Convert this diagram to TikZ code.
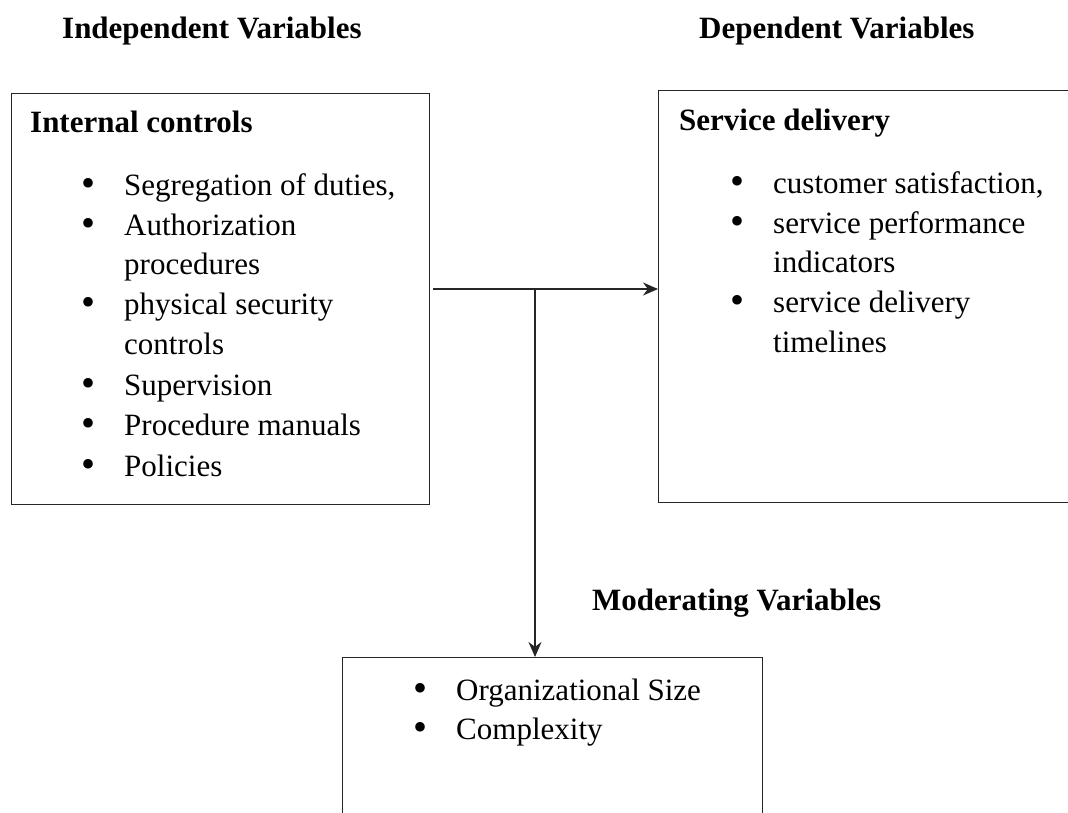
\documentclass[tikz,border=0pt]{standalone}
\usepackage{fontspec}
\setmainfont{Liberation Serif}
\usepackage{tikz}
\usetikzlibrary{arrows.meta, positioning}

\tikzset{
  box/.style={draw=black!85, line width=1.4pt, inner sep=0pt, anchor=north west},
  head/.style={font=\fontsize{31}{40}\selectfont\bfseries, anchor=base west, inner sep=0pt},
  txt/.style={font=\fontsize{31}{40}\selectfont, anchor=base west, inner sep=0pt},
  conn/.style={draw=black!85, line width=1.4pt, -{Stealth[length=15pt,width=13pt]}}
}
\newcommand{\blt}{\llap{\raisebox{-1.5pt}{\fontsize{40}{40}\selectfont\textbullet}\hspace{29pt}}}

\begin{document}
\begin{tikzpicture}[x=1pt,y=-1pt]
\path[use as bounding box, clip] (0,0) rectangle (1068,812);
% Headings
\node[head] (ivhead) at (62,38) {Independent Variables};
\node[head] (dvhead) at (699,38) {Dependent Variables};
\node[head] (mvhead) at (592,610) {Moderating Variables};

% Boxes
\node[box, minimum width=418pt, minimum height=411pt] (ivbox) at (11,93) {};
\node[box, minimum width=440pt, minimum height=412pt] (dvbox) at (658,90) {};
\node[box, minimum width=420pt, minimum height=200pt] (mvbox) at (342,657) {};

% Internal controls
\node[head] (ivtitle) at (30,132) {Internal controls};
\node[txt] (iv1) at (124,195) {\blt Segregation of duties,};
\node[txt] (iv2) at (124,235) {\blt Authorization};
\node[txt] (iv2b) at (124,274) {procedures};
\node[txt] (iv3) at (124,314) {\blt physical security};
\node[txt] (iv3b) at (124,354) {controls};
\node[txt] (iv4) at (124,395) {\blt Supervision};
\node[txt] (iv5) at (124,435) {\blt Procedure manuals};
\node[txt] (iv6) at (124,476) {\blt Policies};

% Service delivery
\node[head] (dvtitle) at (679,130) {Service delivery};
\node[txt] (dv1) at (773,193) {\blt customer satisfaction,};
\node[txt] (dv2) at (773,233) {\blt service performance};
\node[txt] (dv2b) at (773,272) {indicators};
\node[txt] (dv3) at (773,312) {\blt service delivery};
\node[txt] (dv3b) at (773,352) {timelines};

% Moderating
\node[txt] (mv1) at (456,700) {\blt Organizational Size};
\node[txt] (mv2) at (456,739) {\blt Complexity};

% Arrows
\coordinate (start) at (433,289);
\coordinate (joint) at (535,289);
\draw[conn] (start) -- (start -| dvbox.west);
\draw[conn] (joint) -- (joint |- mvbox.north);
\end{tikzpicture}
\end{document}
